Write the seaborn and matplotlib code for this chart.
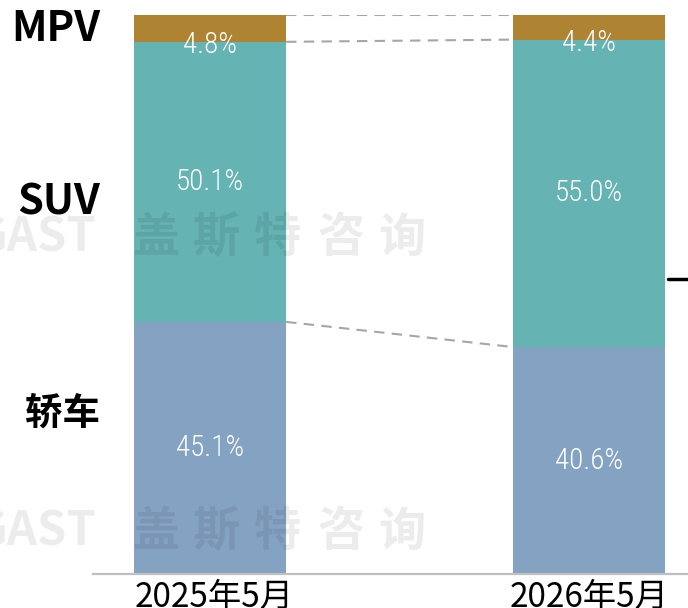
import matplotlib
matplotlib.use("Agg")
import matplotlib.pyplot as plt
import seaborn as sns
import pandas as pd
import numpy as np
from matplotlib.lines import Line2D
from matplotlib import font_manager
from matplotlib.transforms import ScaledTranslation

# ---- data ----
periods = ["2025年5月", "2026年5月"]
sedan = [45.1, 40.6]
suv = [50.1, 55.0]
mpv = [4.8, 4.4]
segment_names = ["轿车", "SUV", "MPV"]

colors = {"轿车": "#84A3C3", "SUV": "#65B3B3", "MPV": "#AE8433"}

sns.set_theme(style="white")
plt.rcParams['font.family'] = ['Noto Sans CJK SC', 'DejaVu Sans']

installed = {f.name for f in font_manager.fontManager.ttflist}
narrow = next((n for n in ['Liberation Sans Narrow', 'Roboto Condensed', 'Open Sans Condensed',
                           'DejaVu Sans Condensed', 'Roboto'] if n in installed), 'DejaVu Sans')

df = pd.DataFrame({"period": periods, "轿车": sedan, "SUV": suv, "MPV": mpv})
df["c_sedan"] = df["轿车"]
df["c_suv"] = df["c_sedan"] + df["SUV"]
df["c_mpv"] = df["c_suv"] + df["MPV"]

W, H = 688, 608
fig = plt.figure(figsize=(W / 100, H / 100), dpi=100)
ax = fig.add_axes([93 / W, (H - 574) / H, 1 - 93 / W, (574 - 15) / H])

bw = 0.401
for col, name in [("c_mpv", "MPV"), ("c_suv", "SUV"), ("c_sedan", "轿车")]:
    sns.barplot(data=df, x="period", y=col, color=colors[name], width=bw,
                saturation=1, linewidth=0, ax=ax)

ax.set_xlim(-0.309, 1.261)
ax.set_ylim(0, 100)
ax.set_xlabel("")
ax.set_ylabel("")
ax.set_yticks([])
ax.tick_params(axis="x", length=0, pad=4)
for k, lab in enumerate(ax.get_xticklabels()):
    lab.set_fontsize(24)
    lab.set_color("black")
    if k == 0:
        lab.set_transform(lab.get_transform() + ScaledTranslation(4 / 100, 0, fig.dpi_scale_trans))
for s in ["top", "right", "left"]:
    ax.spines[s].set_visible(False)
ax.spines["bottom"].set_color("#BFBFBF")
ax.spines["bottom"].set_linewidth(1.6)

# connector dashed lines
for col in ["c_mpv", "c_suv", "c_sedan"]:
    ax.plot([0 + bw / 2, 1 - bw / 2], [df[col][0], df[col][1]],
            color="#A6A6A6", lw=1.5, ls=(0, (5, 3.5)), zorder=3)

# value labels
lab_font = dict(family=[narrow, 'DejaVu Sans'], fontsize=21, fontweight="light",
                color="white", ha="center", va="center", zorder=5)
for i in range(len(periods)):
    ax.text(i, df["c_sedan"][i] / 2, f"{sedan[i]:.1f}%", **lab_font)
    ax.text(i, df["c_sedan"][i] + suv[i] / 2, f"{suv[i]:.1f}%", **lab_font)
    ax.text(i, df["c_suv"][i] - 0.6, f"{mpv[i]:.1f}%", **lab_font)

# left category labels
left_pos = {"MPV": 29, "SUV": 203, "轿车": 413}
left_size = {"MPV": 30, "SUV": 30, "轿车": 27}
for name in segment_names:
    fig.text(100 / W, 1 - left_pos[name] / H, name, ha="right", va="center",
             fontsize=left_size[name], fontweight="bold", color="black")

# watermark
wm_chars = ["盖", "斯", "特", "咨", "询"]
wm_x = [157, 216, 278, 341, 402]
for yy in [238, 532]:
    fig.text(96 / W, 1 - yy / H, "GAST", ha="right", va="center",
             fontsize=34, fontweight="bold", color="black", alpha=0.075, zorder=10)
    for ch, xx in zip(wm_chars, wm_x):
        fig.text(xx / W, 1 - yy / H, ch, ha="center", va="center",
                 fontsize=34, fontweight="bold", color="black", alpha=0.075, zorder=10)

# small black mark on the right edge
fig.add_artist(Line2D([668 / W, 1.0], [1 - 279 / H, 1 - 279 / H],
                      color="black", lw=2.5, transform=fig.transFigure))

fig.savefig("out.png", dpi=100)
